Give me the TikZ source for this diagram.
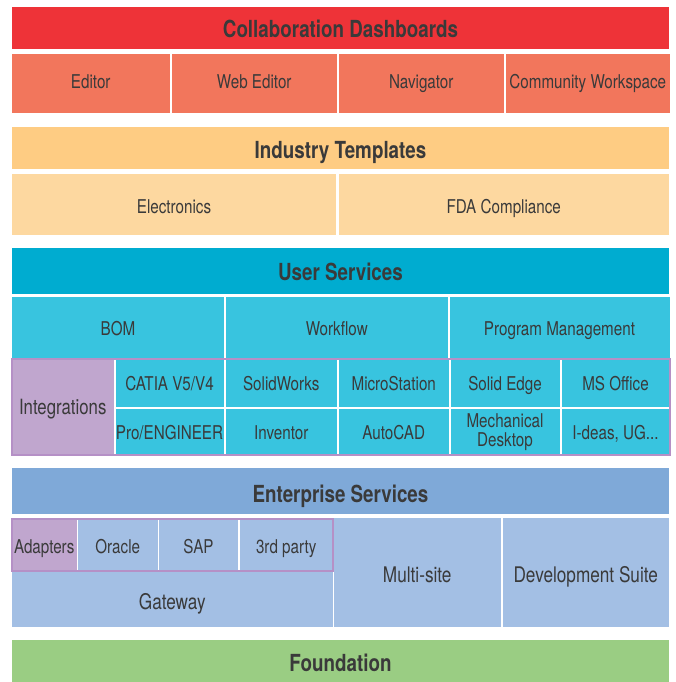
\documentclass[tikz,border=0pt]{standalone}
\usepackage{fontspec}
\setmainfont{TeX Gyre Heros}[FakeStretch=0.8]
\usetikzlibrary{positioning}

\definecolor{txt}{HTML}{3A3A3A}
\definecolor{collab}{HTML}{EE3338}
\definecolor{collabc}{HTML}{F2765C}
\definecolor{indus}{HTML}{FECC83}
\definecolor{indusc}{HTML}{FDD8A0}
\definecolor{user}{HTML}{00ACD0}
\definecolor{userc}{HTML}{38C4DF}
\definecolor{integ}{HTML}{C0A6CE}
\definecolor{integline}{HTML}{B590C6}
\definecolor{ent}{HTML}{7FA9D8}
\definecolor{entc}{HTML}{A3BFE4}
\definecolor{found}{HTML}{9ACD83}

% style, name, x1, y1, x2, y2, text
\newcommand{\blk}[7]{\node[#1, minimum width={(#5)-(#3)}, minimum height={(#6)-(#4)}] (#2) at (#3,#4) {#7};}

\tikzset{
  cell/.style={anchor=north west, inner sep=0pt, outer sep=0pt, text=txt,
    font=\fontsize{19}{19}\selectfont, text height=15.5pt, text depth=0pt},
  big/.style={cell, font=\fontsize{21.5}{22}\selectfont, text height=20pt},
  head/.style={cell, font=\bfseries\fontsize{23.5}{24}\selectfont, text height=18.5pt},
  frame/.style={draw=integline, line width=2pt}
}

\begin{document}
\begin{tikzpicture}[x=1pt,y=-1pt]
            \useasboundingbox (0,0) rectangle (676,682);
            % collaboration
            \blk{head,fill=collab}{collab}{12}{7}{669}{49}{Collaboration Dashboards}
            \blk{cell,fill=collabc,text height=11pt}{editor}{12}{54}{169.5}{113}{Editor}
            \blk{cell,fill=collabc,text height=11pt}{webed}{171.5}{54}{337}{113}{Web Editor}
            \blk{cell,fill=collabc,text height=11pt}{navig}{339}{54}{503.5}{113}{Navigator}
            \blk{cell,fill=collabc,text height=11pt}{commws}{505.5}{54}{670}{113}{Community Workspace}
            % templates
            \blk{head,fill=indus,text height=21.5pt}{indus}{12}{127}{669}{169}{Industry Templates}
            \blk{cell,fill=indusc,text height=18pt}{elec}{12}{174}{336}{235}{Electronics}
            \blk{cell,fill=indusc,text height=18pt}{fda}{338.5}{174}{669}{235}{FDA Compliance}
            % user services
            \blk{head,fill=user}{user}{12}{248}{669}{294}{User Services}
            \blk{cell,fill=userc}{bom}{12}{297}{224}{358}{BOM}
            \blk{cell,fill=userc}{wflow}{226}{297}{447.5}{358}{Workflow}
            \blk{cell,fill=userc}{progm}{449.5}{297}{669.5}{358}{Program Management}
            \blk{cell,fill=integ,font=\fontsize{21}{21}\selectfont}{integ}{12}{359}{113.5}{455}{Integrations}
            \blk{cell,fill=userc}{catia}{115.5}{359}{223.5}{406.5}{CATIA V5/V4}
            \blk{cell,fill=userc}{solidw}{225.5}{359}{337}{406.5}{SolidWorks}
            \blk{cell,fill=userc}{micro}{339}{359}{448.5}{406.5}{MicroStation}
            \blk{cell,fill=userc}{sedge}{450.5}{359}{559.5}{406.5}{Solid Edge}
            \blk{cell,fill=userc}{msoff}{561.5}{359}{669.5}{406.5}{MS Office}
            \blk{cell,fill=userc}{proe}{115.5}{408.5}{223.5}{455}{Pro/ENGINEER}
            \blk{cell,fill=userc}{invent}{225.5}{408.5}{337}{455}{Inventor}
            \blk{cell,fill=userc}{acad}{339}{408.5}{448.5}{455}{AutoCAD}
            \blk{cell,fill=userc,align=center,text height=,text depth=}{mdesk}{450.5}{408.5}{559.5}{455}{Mechanical\\Desktop}
            \blk{cell,fill=userc}{ideas}{561.5}{408.5}{669.5}{455}{I-deas, UG...}
            \draw[frame] (integ.north west) rectangle (ideas.south east);
            % enterprise
            \blk{head,fill=ent,text height=23pt}{ent}{12}{468}{669}{514}{Enterprise Services}
            \blk{cell,fill=integ,text height=18pt}{adapt}{12}{518.5}{76.5}{570.5}{Adapters}
            \blk{cell,fill=entc,text height=18pt}{oracle}{78}{518.5}{157.5}{570.5}{Oracle}
            \blk{cell,fill=entc,text height=18pt}{sap}{159}{518.5}{238}{570.5}{SAP}
            \blk{cell,fill=entc,text height=18pt}{third}{239.5}{518.5}{333}{570.5}{3rd party}
            \blk{big,fill=entc}{gatew}{12}{572}{332.5}{627}{Gateway}
            \blk{big,fill=entc}{msite}{334}{518}{500.5}{627}{Multi-site}
            \blk{big,fill=entc}{devst}{502.5}{518}{669}{627}{Development Suite}
            \draw[frame] (adapt.north west) rectangle (third.south east);
            % \draw[frame] (adapt.north west) rectangle (gatew.south east);
            \blk{head,fill=found}{found}{12}{640}{669}{685}{Foundation}
        \end{tikzpicture}
\end{document}
